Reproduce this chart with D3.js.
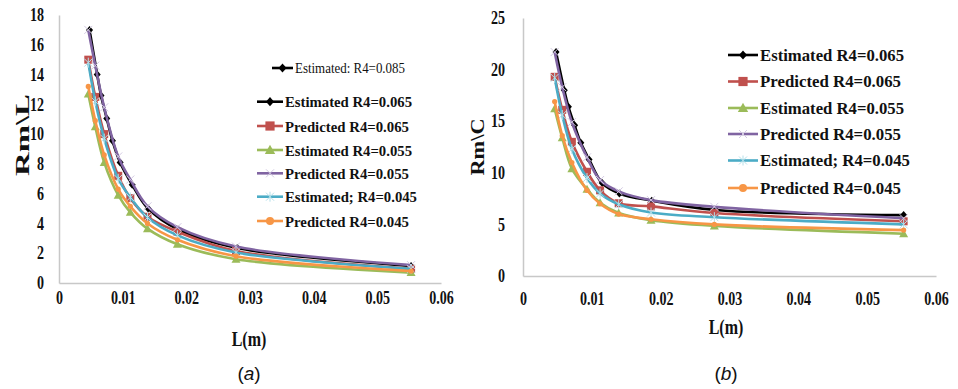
<!DOCTYPE HTML>
<html lang="en">
<head>
  <meta charset="utf-8">
  <title>Rm vs L</title>
  <script src="https://d3js.org/d3.v7.min.js"></script>
  <style>
    body { margin: 0; background: #fff; }
  </style>
</head>
<body>
<div id="stage"></div>
<script>
  // x positions (L in metres) of the measured points
  var L_fine = [0.0048, 0.0060, 0.0066, 0.0075, 0.0084, 0.0096, 0.0115, 0.0140, 0.0187, 0.0280, 0.0553];
  var L_main = [0.0046, 0.0057, 0.0071, 0.0093, 0.0112, 0.0139, 0.0186, 0.0278, 0.0553];

  var xTicks = [0, 0.01, 0.02, 0.03, 0.04, 0.05, 0.06];
  var yTicksA = [0, 2, 4, 6, 8, 10, 12, 14, 16, 18];
  var yTicksB = [0, 5, 10, 15, 20, 25];

  var seriesNames = ["Estimated R4=0.065", "Predicted R4=0.065", "Estimated R4=0.055",
                     "Predicted R4=0.055", "Estimated; R4=0.045", "Predicted R4=0.045"];

  // (a) Rm\L
  var a_est065  = [17.0, 14.0, 12.6, 11.05, 9.55, 8.1, 6.6, 5.0, 3.6, 2.35, 1.15];
  var a_pred065 = [15.0, 12.5, 10.0, 7.2, 5.7, 4.45, 3.45, 2.15, 0.95];
  var a_est055  = [12.7, 10.5, 8.1, 5.9, 4.75, 3.65, 2.6, 1.6, 0.7];
  var a_pred055 = [17.0, 14.6, 11.8, 8.5, 6.95, 5.15, 3.75, 2.45, 1.2];
  var a_est045  = [14.8, 12.2, 9.7, 7.0, 5.75, 4.4, 3.2, 2.05, 0.95];
  var a_pred045 = [13.2, 10.9, 8.6, 6.3, 5.15, 4.0, 2.9, 1.8, 0.8];

  // (b) Rm\C
  var b_est065  = [21.7, 18.0, 16.4, 14.6, 12.9, 11.3, 9.0, 8.0, 7.3, 6.4, 5.9];
  var b_pred065 = [19.3, 16.1, 13.0, 10.1, 8.3, 7.05, 6.75, 6.1, 5.3];
  var b_est055  = [16.2, 13.4, 10.4, 8.4, 7.1, 6.1, 5.4, 4.85, 4.1];
  var b_pred055 = [21.7, 18.3, 14.9, 11.5, 9.3, 8.2, 7.35, 6.7, 5.6];
  var b_est045  = [19.2, 15.6, 12.3, 9.5, 8.0, 6.95, 6.15, 5.7, 5.0];
  var b_pred045 = [16.9, 13.6, 11.0, 8.3, 7.0, 6.0, 5.5, 5.0, 4.45];

  var colors = ["#000000", "#c0504d", "#9bbb59", "#8064a2", "#4bacc6", "#f79646"];
  var markers = ["diamond", "square", "triangle", "cross", "star", "circle"];

  var svg = d3.select("#stage").append("svg").attr("width", 958).attr("height", 389);

  var serif = "'Liberation Serif', 'Times New Roman', serif";

  // glyphs in the figure are narrow, squeeze text horizontally
  function squish(sel, k) {
    sel.each(function () {
      var w = this.getComputedTextLength();
      d3.select(this).attr("textLength", w * k).attr("lengthAdjust", "spacingAndGlyphs");
    });
  }

  function drawMarker(g, kind, color, cx, cy, big) {
    var s = big ? 1.15 : 1;
    if (kind == "diamond") {
      g.append("path").attr("d", "M" + cx + "," + (cy - 4 * s) + "L" + (cx + 3.5 * s) + "," + cy + "L" + cx + "," + (cy + 4 * s) + "L" + (cx - 3.5 * s) + "," + cy + "Z")
        .attr("fill", color);
    } else if (kind == "square") {
      g.append("rect").attr("x", cx - 4 * s).attr("y", cy - 4 * s).attr("width", 8 * s).attr("height", 8 * s).attr("fill", color);
    } else if (kind == "triangle") {
      g.append("path").attr("d", "M" + cx + "," + (cy - 4.5 * s) + "L" + (cx + 4.5 * s) + "," + (cy + 3.5 * s) + "L" + (cx - 4.5 * s) + "," + (cy + 3.5 * s) + "Z")
        .attr("fill", color);
    } else if (kind == "cross") {
      g.append("path").attr("d", "M" + (cx - 4) + "," + (cy - 4) + "L" + (cx + 4) + "," + (cy + 4) + "M" + (cx + 4) + "," + (cy - 4) + "L" + (cx - 4) + "," + (cy + 4))
        .attr("stroke", "#d3cae2").attr("stroke-width", 1);
    } else if (kind == "star") {
      g.append("path").attr("d", "M" + (cx - 4) + "," + (cy - 4) + "L" + (cx + 4) + "," + (cy + 4) + "M" + (cx + 4) + "," + (cy - 4) + "L" + (cx - 4) + "," + (cy + 4) + "M" + cx + "," + (cy - 5) + "L" + cx + "," + (cy + 5))
        .attr("stroke", "#b5e0ea").attr("stroke-width", 1);
    } else if (kind == "circle") {
      g.append("circle").attr("cx", cx).attr("cy", cy).attr("r", big ? 4 : 2.6).attr("fill", color);
    }
  }

  function panel(opt) {
    var x = d3.scaleLinear().domain([0, 0.06]).range([opt.x0, opt.x1]);
    var y = d3.scaleLinear().domain([0, opt.ymax]).range([opt.y0, opt.y1]);
    var g = svg.append("g");

    var xAxis = g.append("g").attr("transform", "translate(0," + opt.y0 + ")")
      .call(d3.axisBottom(x).tickValues(xTicks).tickSize(0).tickPadding(opt.xPad)
        .tickFormat(function (d) { return d === 0 ? "0" : d.toFixed(2); }));
    var yAxis = g.append("g").attr("transform", "translate(" + opt.x0 + ",0)")
      .call(d3.axisLeft(y).tickValues(opt.yTicks).tickSize(0).tickPadding(opt.yPad));

    [xAxis, yAxis].forEach(function (ax) {
      ax.select(".domain").attr("stroke", "#c8c8c8").attr("stroke-width", 1.5);
      ax.selectAll("text").attr("font-family", serif).attr("font-weight", "bold")
        .attr("font-size", 18).attr("fill", "#111").call(squish, 0.78);
    });

    var line = d3.line().x(function (d) { return x(d[0]); }).y(function (d) { return y(d[1]); })
      .curve(d3.curveCatmullRom.alpha(0.5));

    opt.series.forEach(function (vals, i) {
      var xs = i == 0 ? L_fine : L_main;
      var pts = vals.map(function (v, j) { return [xs[j], v]; });
      var sg = g.append("g");
      sg.append("path").attr("d", line(pts)).attr("fill", "none")
        .attr("stroke", colors[i]).attr("stroke-width", 2.6);
      pts.forEach(function (p) { drawMarker(sg, markers[i], colors[i], x(p[0]), y(p[1])); });
    });

    // axis titles
    g.append("text").attr("transform", "translate(" + opt.ytX + "," + opt.ytY + ") rotate(-90)")
      .attr("text-anchor", "middle").attr("dominant-baseline", "central")
      .attr("font-family", serif).attr("font-weight", "bold").attr("font-size", 19)
      .attr("fill", "#111").attr("textLength", opt.ytLen).attr("lengthAdjust", "spacingAndGlyphs")
      .text(opt.yTitle);
    g.append("text").attr("x", opt.xtX).attr("y", opt.xtY).attr("text-anchor", "middle")
      .attr("dominant-baseline", "central").attr("font-family", serif).attr("font-weight", "bold")
      .attr("font-size", 20).attr("fill", "#111").text("L(m)").call(squish, 0.8);

    var cap = g.append("text").attr("x", opt.xtX).attr("y", 373).attr("text-anchor", "middle")
      .attr("dominant-baseline", "central").attr("font-family", "'Liberation Sans', Arial, sans-serif")
      .attr("font-size", 19).attr("fill", "#111");
    cap.append("tspan").text("(");
    cap.append("tspan").attr("font-style", "italic").text(opt.tag);
    cap.append("tspan").text(")");

    // legend
    var lg = g.append("g");
    opt.legY.forEach(function (ly, i) {
      lg.append("line").attr("x1", opt.legX0).attr("x2", opt.legX1).attr("y1", ly).attr("y2", ly)
        .attr("stroke", colors[i]).attr("stroke-width", 2.6);
      drawMarker(lg, markers[i], colors[i], (opt.legX0 + opt.legX1) / 2, ly, true);
      lg.append("text").attr("x", opt.legX1 + 2).attr("y", ly).attr("dominant-baseline", "central")
        .attr("font-family", serif).attr("font-weight", "bold").attr("font-size", opt.legFont)
        .attr("fill", "#111").attr("textLength", opt.legW[i]).attr("lengthAdjust", "spacingAndGlyphs")
        .text(seriesNames[i]);
    });
    return g;
  }

  var ga = panel({
    x0: 59, x1: 441, y0: 283, y1: 15, ymax: 18, yTicks: yTicksA, xPad: 8, yPad: 15,
    series: [a_est065, a_pred065, a_est055, a_pred055, a_est045, a_pred045],
    yTitle: "Rm\\L", ytX: 22, ytY: 135, ytLen: 82, xtX: 249, xtY: 339, tag: "a",
    legY: [101.7, 126, 150, 173.3, 196.7, 221], legX0: 257, legX1: 283, legFont: 15.5,
    legW: [127, 124, 127, 124, 132, 124]
  });

  // single extra entry above the left legend
  ga.append("line").attr("x1", 272).attr("x2", 293).attr("y1", 68).attr("y2", 68)
    .attr("stroke", "#000").attr("stroke-width", 2.6);
  drawMarker(ga, "diamond", "#000", 282.5, 68, true);
  ga.append("text").attr("x", 295).attr("y", 68).attr("dominant-baseline", "central")
    .attr("font-family", serif).attr("font-size", 14.5).attr("fill", "#111")
    .attr("textLength", 110).attr("lengthAdjust", "spacingAndGlyphs")
    .text("Estimated: R4=0.085");

  panel({
    x0: 523, x1: 936, y0: 276, y1: 18, ymax: 25, yTicks: yTicksB, xPad: 16, yPad: 18,
    series: [b_est065, b_pred065, b_est055, b_pred055, b_est045, b_pred045],
    yTitle: "Rm\\C", ytX: 477, ytY: 147, ytLen: 57, xtX: 726, xtY: 327, tag: "b",
    legY: [55, 81.5, 108, 134, 160.5, 188], legX0: 728, legX1: 758, legFont: 17,
    legW: [144, 141, 144, 141, 150, 141]
  });
</script>
</body>
</html>
